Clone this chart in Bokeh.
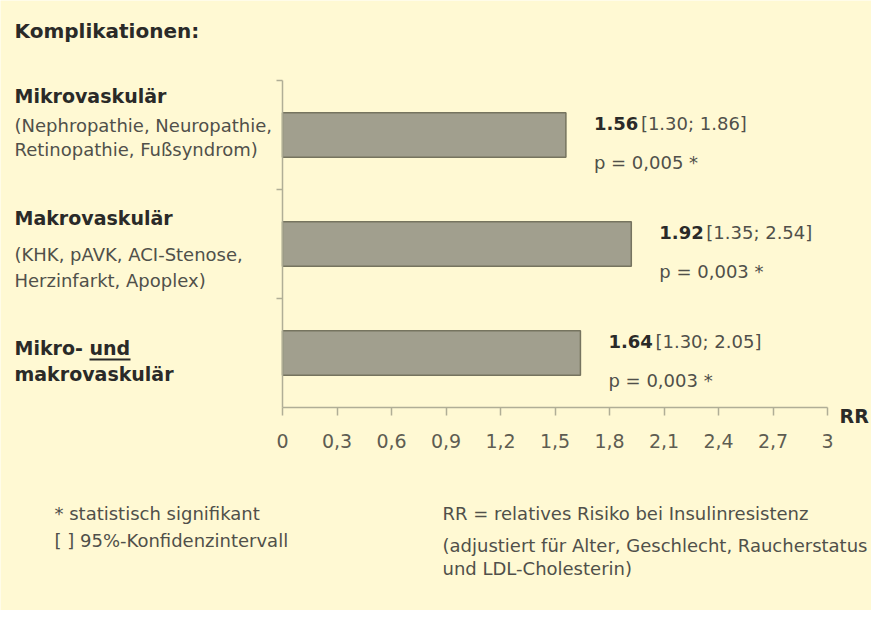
from bokeh.plotting import figure
from bokeh.models import Label, Range1d, FixedTicker, Arrow, ColumnDataSource
from bokeh.embed import file_html
from bokeh.resources import INLINE

# ---------------- data ----------------
categories = ["Mikrovaskulär", "Makrovaskulär", "Mikro- und makrovaskulär"]
rr_values = [1.56, 1.92, 1.64]
ci_low = [1.30, 1.35, 1.30]
ci_high = [1.86, 2.54, 2.05]
p_values = ["0,005", "0,003", "0,003"]
x_ticks = [0, 0.3, 0.6, 0.9, 1.2, 1.5, 1.8, 2.1, 2.4, 2.7, 3]
x_tick_labels = ["0", "0,3", "0,6", "0,9", "1,2", "1,5", "1,8", "2,1", "2,4", "2,7", "3"]

title_text = "Komplikationen:"
cat_lines = [["Mikrovaskulär"], ["Makrovaskulär"], ["Mikro- und", "makrovaskulär"]]
cat_details = [["(Nephropathie, Neuropathie,", "Retinopathie, Fußsyndrom)"],
               ["(KHK, pAVK, ACI-Stenose,", "Herzinfarkt, Apoplex)"],
               []]
foot_left = ["* statistisch signifikant", "[  ] 95%-Konfidenzintervall"]
foot_right = ["RR = relatives Risiko bei Insulinresistenz",
              "(adjustiert für Alter, Geschlecht, Raucherstatus",
              "und LDL-Cholesterin)"]

# ---------------- styles ----------------
BG = "#FFF9D3"
BAR_FILL = "#A19F8E"
BAR_LINE = "#76745F"
AXIS = "#B0AE96"
DARK = "#2A2A28"
REG = "#50504A"
FONT = "DejaVu Sans"

W, H = 871, 610
# chart area in page pixels: x=0 at 290, x=3 at 835; y=0 at 415, y=3 at 88
PX0, PX3, PY0, PY3 = 290, 835, 415, 88

def XD(px):  # page px -> data x
    return (px - PX0) * 3.0 / (PX3 - PX0)

def YD(py):  # page py -> data y
    return (PY0 - py) * 3.0 / (PY0 - PY3)

p = figure(width=W, height=H,
           x_range=Range1d(XD(8), XD(8 + W)), y_range=Range1d(YD(8 + H), YD(8)),
           output_backend="svg", toolbar_location=None,
           min_border_left=0, min_border_right=0,
           min_border_top=0, min_border_bottom=0)
p.background_fill_color = BG
p.border_fill_color = BG
p.outline_line_color = None
p.xgrid.visible = False
p.ygrid.visible = False

# x axis
p.xaxis.fixed_location = 0
p.xaxis.bounds = (0, 3)
p.xaxis.ticker = FixedTicker(ticks=x_ticks)
p.xaxis.major_label_overrides = {t: l for t, l in zip(x_ticks, x_tick_labels)}
p.xaxis.minor_tick_line_color = None
p.xaxis.major_tick_out = 8
p.xaxis.major_tick_in = 0
p.xaxis.major_label_standoff = 18
p.xaxis.major_label_text_font = FONT
p.xaxis.major_label_text_font_size = "19px"
p.xaxis.major_label_text_color = "#5E5D52"
p.xaxis.axis_line_color = AXIS
p.xaxis.axis_line_width = 1.5
p.xaxis.major_tick_line_color = AXIS
p.xaxis.major_tick_line_width = 1.5

# y axis (category separators)
p.yaxis.fixed_location = 0
p.yaxis.bounds = (0, 3)
p.yaxis.ticker = FixedTicker(ticks=[1, 2, 3])
p.yaxis.major_label_overrides = {1: "", 2: "", 3: ""}
p.yaxis.minor_tick_line_color = None
p.yaxis.major_tick_out = 6
p.yaxis.major_tick_in = 0
p.yaxis.axis_line_color = AXIS
p.yaxis.axis_line_width = 1.5
p.yaxis.major_tick_line_color = AXIS
p.yaxis.major_tick_line_width = 1.5

n = len(categories)
ys = [n - 0.5 - i for i in range(n)]
src = ColumnDataSource(dict(y=ys, right=rr_values, cat=categories))
p.hbar(y="y", left=0, right="right", height=0.41, source=src,
       fill_color=BAR_FILL, line_color=BAR_LINE, line_width=1.5)

def lab(x, y, text, size="18px", bold=False, color=None, x_offset=0):
    p.add_layout(Label(x=x, y=y, text=text, x_offset=x_offset,
                       text_font=FONT, text_font_size=size,
                       text_font_style="bold" if bold else "normal",
                       text_color=color or (DARK if bold else REG),
                       text_align="left", text_baseline="middle"))

px_per_y = (PY0 - PY3) / 3.0
px_per_x = (PX3 - PX0) / 3.0
# annotations next to bars
for i in range(n):
    yc = ys[i]
    xa = rr_values[i] + 28 / px_per_x
    lab(xa, yc + 12 / px_per_y, f"{rr_values[i]:.2f}", bold=True)
    lab(xa, yc + 12 / px_per_y, f"[{ci_low[i]:.2f}; {ci_high[i]:.2f}]", x_offset=47)
    lab(xa, yc - 27 / px_per_y, f"p = {p_values[i]} *")

# title
lab(XD(22), YD(38), title_text, size="20px", bold=True)

# category labels on the left
head_y = [[103], [225], [355, 381]]
det_y = [[133, 157], [262, 288], []]
for i in range(n):
    for t, yy in zip(cat_lines[i], head_y[i]):
        lab(XD(22), YD(yy), t, size="19px", bold=True)
    for t, yy in zip(cat_details[i], det_y[i]):
        lab(XD(22), YD(yy), t)

# underline for "und"
p.add_layout(Arrow(end=None, x_start=XD(97), x_end=XD(138),
                   y_start=YD(367), y_end=YD(367),
                   line_color=DARK, line_width=2))

# axis title
lab(XD(847), YD(423), "RR", size="19px", bold=True)

# footnotes
for t, yy in zip(foot_left, [521, 548]):
    lab(XD(62), YD(yy), t)
for t, yy in zip(foot_right, [521, 553, 576]):
    lab(XD(450), YD(yy), t)

open("out.html", "w").write(file_html(p, INLINE))
